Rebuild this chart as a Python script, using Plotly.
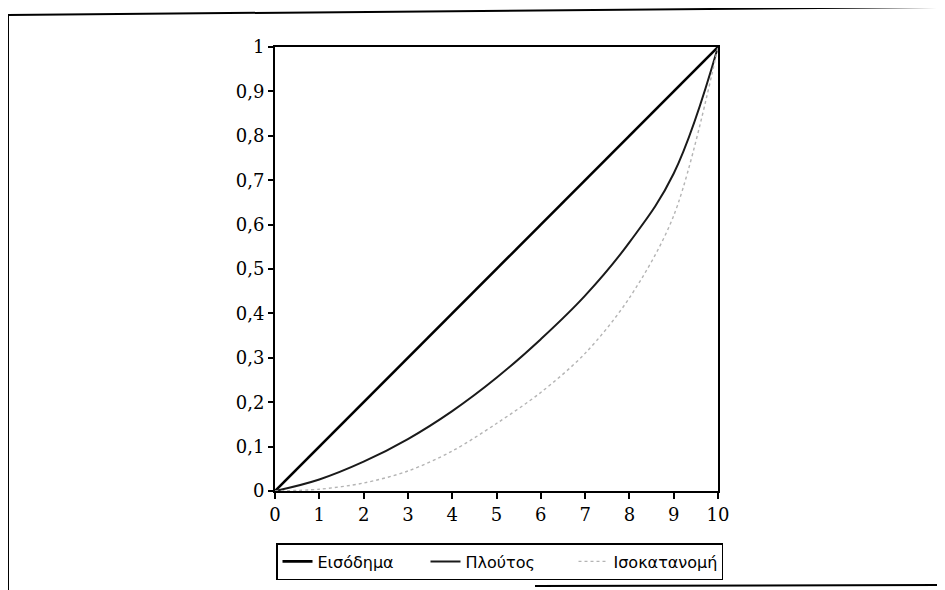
import plotly.graph_objects as go

x_vals = [0, 1, 2, 3, 4, 5, 6, 7, 8, 9, 10]
eisodima = [0, 0.1, 0.2, 0.3, 0.4, 0.5, 0.6, 0.7, 0.8, 0.9, 1.0]
ploutos = [0, 0.026, 0.066, 0.117, 0.18, 0.255, 0.342, 0.44, 0.56, 0.715, 1.0]
isokatanomi = [0, 0.004, 0.018, 0.045, 0.09, 0.152, 0.222, 0.31, 0.435, 0.62, 1.0]
y_ticks = [0, 0.1, 0.2, 0.3, 0.4, 0.5, 0.6, 0.7, 0.8, 0.9, 1.0]

fig = go.Figure()
fig.add_trace(go.Scatter(x=x_vals, y=eisodima, mode="lines", name="Εισόδημα",
                         line=dict(color="#000000", width=2.6)))
fig.add_trace(go.Scatter(x=x_vals, y=ploutos, mode="lines", name="Πλούτος",
                         line=dict(color="#1a1a1a", width=2.0, shape="spline", smoothing=1.1)))
fig.add_trace(go.Scatter(x=x_vals, y=isokatanomi, mode="lines", name="Ισοκατανομή",
                         line=dict(color="#b4b4b4", width=1.4, dash="dot", shape="spline", smoothing=0.9)))

# page offset (browser body margin) of 8 px
OFF = 8
L, R, T, B = 275 - OFF, 945 - 718 + OFF, 47 - OFF, 590 - 491 + OFF
PW, PH = 718 - 275, 491 - 47


def px(p):
    return (p - 275) / PW


def py(p):
    return (491 - p) / PH


axis_font = dict(family="DejaVu Serif", size=18, color="#000000")
fig.update_layout(
    width=945, height=590,
    margin=dict(l=L, r=R, t=T, b=B, autoexpand=False),
    paper_bgcolor="white", plot_bgcolor="white",
    separators=",.",
    showlegend=True,
    legend=dict(orientation="h", xref="container", x=(499.5 - OFF) / 945, xanchor="center",
                y=py(543), yanchor="top",
                bordercolor="#000000", borderwidth=1.5,
                font=dict(family="DejaVu Sans", size=16, color="#000000"),
                itemwidth=30, entrywidth=103, tracegroupgap=0),
    xaxis=dict(range=[0, 10], tickvals=x_vals, showgrid=False, zeroline=False,
               showline=True, linecolor="#000000", linewidth=2, mirror=True,
               ticks="outside", ticklen=6, tickwidth=1.5, tickcolor="#000000",
               tickfont=axis_font),
    yaxis=dict(range=[0, 1], tickvals=y_ticks, showgrid=False, zeroline=False,
               showline=True, linecolor="#000000", linewidth=2, mirror=True,
               ticks="outside", ticklen=5, tickwidth=1.5, tickcolor="#000000",
               tickfont=axis_font),
    shapes=[
        dict(type="line", xref="paper", yref="paper", x0=px(6), x1=px(945),
             y0=py(15), y1=py(7), line=dict(color="#000000", width=2)),
        dict(type="line", xref="paper", yref="paper", x0=px(8), x1=px(8),
             y0=py(15), y1=py(600), line=dict(color="#000000", width=2)),
        dict(type="line", xref="paper", yref="paper", x0=px(940), x1=px(940),
             y0=py(7), y1=py(600), line=dict(color="#000000", width=2)),
        dict(type="line", xref="paper", yref="paper", x0=px(535), x1=px(945),
             y0=py(586), y1=py(585), line=dict(color="#000000", width=2)),
    ],
)

fig.write_html("out.html")
